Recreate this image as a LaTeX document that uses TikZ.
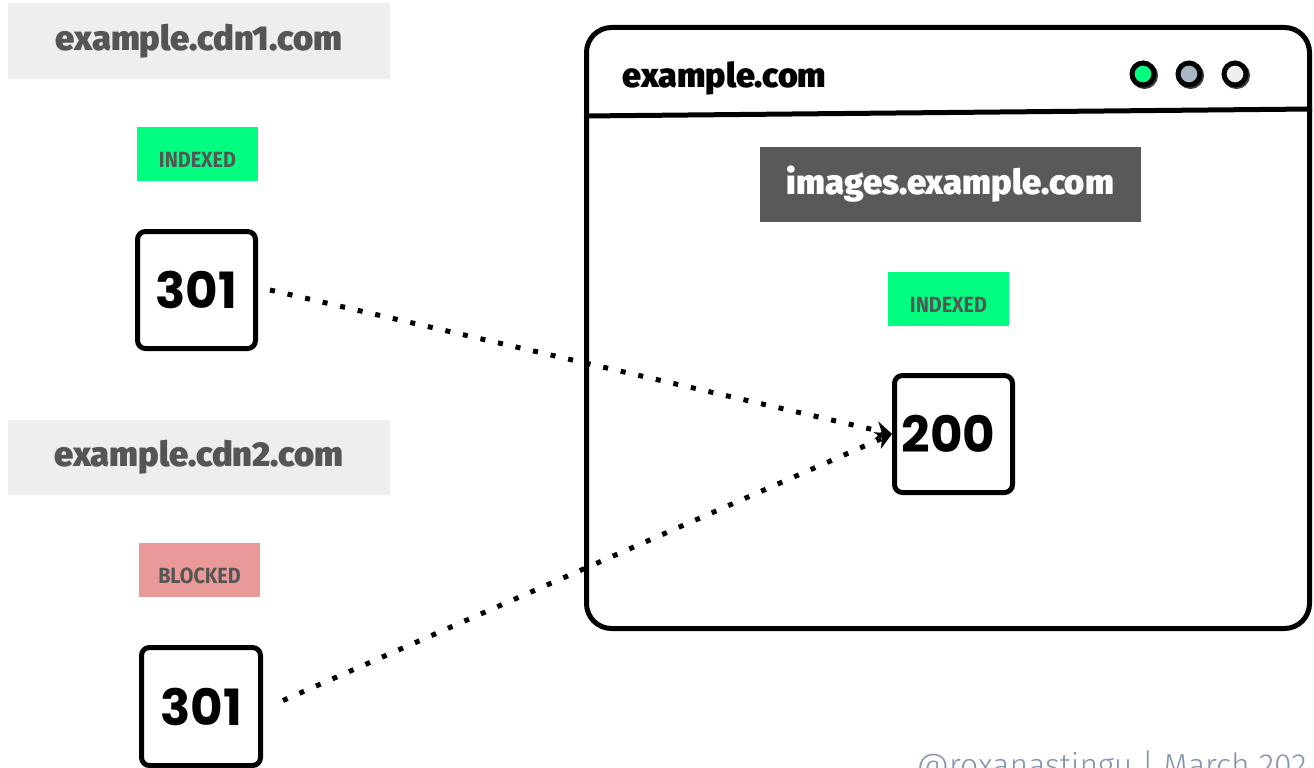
\documentclass[tikz,border=0pt]{standalone}
\usepackage{fontspec}
\setmainfont{Fira Sans}
\newfontfamily\numfont{Poppins}
\newfontfamily\condfont[FakeStretch=0.9]{Fira Sans}
\newfontfamily\heavyfont{Fira Sans Black}
\newfontfamily\footfont{Fira Sans Light}
\usepackage{xcolor}
\usepackage{tikz}
\usetikzlibrary{arrows.meta,positioning,calc}
\definecolor{rxink}{RGB}{0,0,0}
\definecolor{rxhost}{RGB}{238,238,238}
\definecolor{rxtext}{RGB}{85,85,85}
\definecolor{rxok}{RGB}{0,255,128}
\definecolor{rxno}{RGB}{234,153,153}
\definecolor{rxdark}{RGB}{89,89,89}
\definecolor{rxbtn}{RGB}{169,182,198}
\definecolor{rxfoot}{RGB}{132,150,174}
\tikzset{
  host/.style={
    fill=rxhost, inner sep=0pt, minimum width=382pt, minimum height=76pt,
    text=rxtext, font=\heavyfont\fontsize{34.5}{40}\selectfont
  },
  tag/.style={
    inner sep=0pt, minimum width=121pt, minimum height=54pt,
    text height=27pt, text depth=0pt, text=rxtext,
    font=\condfont\fontsize{22}{26}\selectfont\bfseries
  },
  ok/.style={tag, fill=rxok},
  no/.style={tag, fill=rxno},
  code/.style={
    draw=rxink, line width=5pt, rounded corners=8pt, inner sep=0pt,
    minimum width=118pt, minimum height=117pt,
    font=\numfont\fontsize{50}{56}\selectfont\bfseries
  },
  win/.style={draw=rxink, line width=5pt, rounded corners=25pt, inner sep=0pt},
  btn/.style={
    circle, draw=rxink, line width=5pt, minimum size=22pt, inner sep=0pt,
    preaction={draw=black!75, line width=5pt,
      transform canvas={shift={(1.5pt,-1.5pt)}}}
  },
  dotarr/.style={
    draw=rxink, line width=5pt, dash pattern=on 5pt off 13pt,
    -{Stealth[length=16pt,width=18pt]}
  }
}
\begin{document}
\begin{tikzpicture}[x=1pt,y=-1pt]
  \clip (0,0) rectangle (1314,768);
  % left column: the two cdn hosts
  \node[host] (cdnA) at (199,41) {example.cdn1.com};
  \node[ok] (tagA) at (197.5,154) {INDEXED};
  \node[code] (redirA) at (196.5,290) {301};
  \node[host, minimum height=75pt] (cdnB) at (199,457) {example.cdn2.com};
  \node[no] (tagB) at (199.5,570) {BLOCKED};
  \node[code, minimum width=119pt, minimum height=118pt] (redirB) at (201,706.5) {301};
  % browser window
  \node[win, minimum width=723pt, minimum height=601pt] (site) at (948,328) {};
  \draw[rxink, line width=5pt] (site.west |- 0,116) -- (site.east |- 0,109);
  \node[anchor=west, font=\heavyfont\fontsize{34}{40}\selectfont] (siteName) at (619,78) {example.com};
  \node[btn, fill=rxok] (btnA) at (1143,74) {};
  \node[btn, fill=rxbtn] (btnB) at (1189,74) {};
  \node[btn, fill=rxhost] (btnC) at (1235,74) {};
  \node[host, fill=rxdark, text=white, minimum width=381pt, minimum height=75pt,
    font=\heavyfont\fontsize{34.5}{40}\selectfont] (imgHost) at (950.5,184.5) {images.example.com};
  \node[ok] (tagC) at (948.5,298.5) {INDEXED};
  \node[code, text width=104pt, align=left] (target) at (953.5,434) {200};
  % redirects
  \draw[dotarr] ([xshift=12pt]redirA.east) -- (target.west);
  \draw[dotarr] ([shift={(20pt,6pt)}]redirB.east) -- (target.west);
  \node[anchor=base west, text=rxfoot, font=\footfont\fontsize{32}{36}\selectfont] (credit) at (913,776) {@roxanastingu | March 202};
\end{tikzpicture}
\end{document}
